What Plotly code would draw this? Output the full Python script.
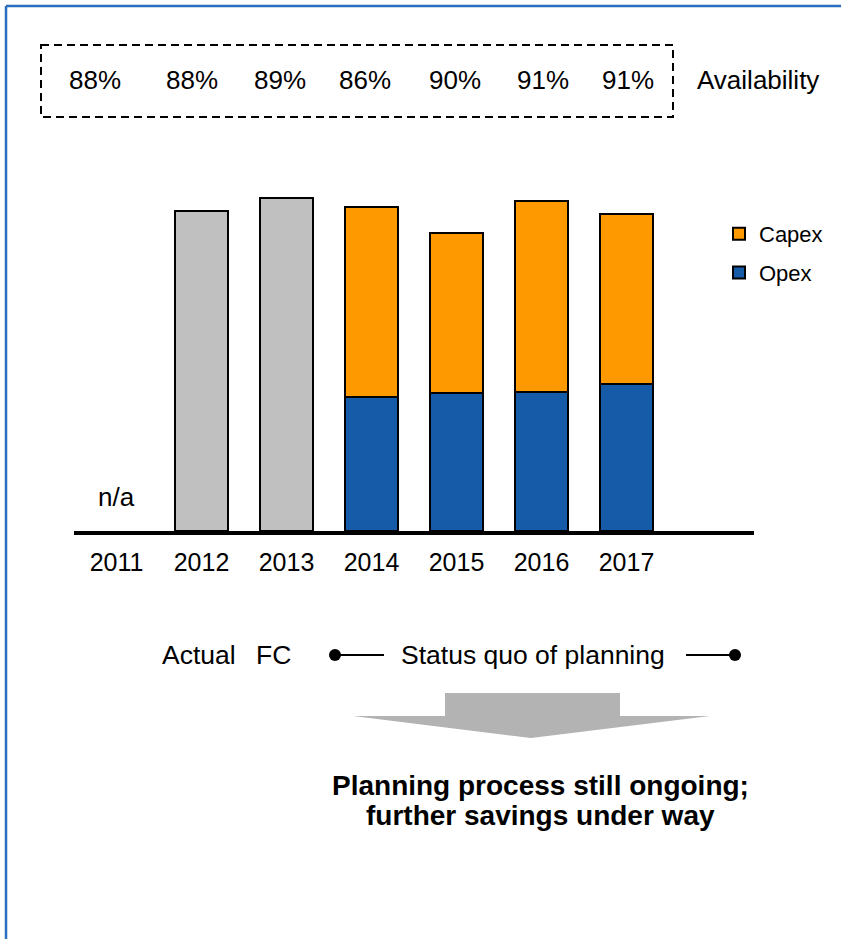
import plotly.graph_objects as go

# ---- data -------------------------------------------------------------
years = ["2011", "2012", "2013", "2014", "2015", "2016", "2017"]
availability = ["88%", "88%", "89%", "86%", "90%", "91%", "91%"]

actual_fc_years = ["2012", "2013"]
actual_fc_total = [320, 333]

plan_years = ["2014", "2015", "2016", "2017"]
opex = [134, 138, 139, 147]
capex = [190, 160, 191, 170]

# ---- layout constants (pixels of an 842 x 939 page) -------------------
W, H = 842, 939
PLOT_L, PLOT_R = 74, 754
PLOT_T, PLOT_B = 131, 531
FONT = "Liberation Sans, Arial, sans-serif"

GREY = "#c0c0c0"
ORANGE = "#ff9900"
BLUE = "#155ba8"
FRAME = "#2a6ebf"


def px(x):
    return (x - PLOT_L) / (PLOT_R - PLOT_L)


def py(y):
    return (PLOT_B - y) / (PLOT_B - PLOT_T)


def label(x, y, text, size=26, anchor="center", **kw):
    return dict(x=px(x), y=py(y), xref="paper", yref="paper", text=text, showarrow=False,
                xanchor=anchor, yanchor="middle",
                font=dict(size=size, color="black", family=FONT), **kw)


fig = go.Figure()

bar_line = dict(color="black", width=2)
fig.add_trace(go.Bar(x=actual_fc_years, y=actual_fc_total, marker=dict(color=GREY, line=bar_line),
                     width=0.62, showlegend=False, hoverinfo="skip"))
fig.add_trace(go.Bar(x=plan_years, y=opex, name="Opex", legendgroup="opex", legendrank=2,
                     marker=dict(color=BLUE, line=bar_line), width=0.62))
fig.add_trace(go.Bar(x=plan_years, y=capex, name="Capex", legendgroup="capex", legendrank=1,
                     marker=dict(color=ORANGE, line=bar_line), width=0.62))

annotations = []
shapes = []

# availability row inside a dashed box
avail_x = [95, 191.5, 279.5, 364.5, 454.5, 542.5, 628]
for xc, txt in zip(avail_x, availability):
    annotations.append(label(xc, 80, txt))
annotations.append(label(695, 80, "Availability", anchor="left"))
shapes.append(dict(type="rect", xref="paper", yref="paper", x0=px(41), x1=px(673), y0=py(45), y1=py(117),
                   line=dict(color="black", width=2, dash="8px,5px")))

# n/a marker for 2011 (first category slot)
annotations.append(dict(x=0, y=py(497), xref="x", yref="paper", text="n/a", showarrow=False,
                        xanchor="center", yanchor="middle",
                        font=dict(size=26, color="black", family=FONT)))

# timeline captions
annotations.append(label(199, 655, "Actual", size=26.5))
annotations.append(label(273, 655, "FC", size=26.5))
annotations.append(label(533, 655, "Status quo of planning", size=26.5))
for x0, x1 in [(335, 384), (686, 735)]:
    shapes.append(dict(type="line", xref="paper", yref="paper", x0=px(x0), x1=px(x1), y0=py(655), y1=py(655),
                       line=dict(color="black", width=2)))
for xc in (335, 735):
    shapes.append(dict(type="circle", xref="paper", yref="paper", x0=px(xc - 6), x1=px(xc + 6),
                       y0=py(655 - 6), y1=py(655 + 6), fillcolor="black", line=dict(color="black", width=0)))

# grey down arrow
arrow_pts = [(445, 693), (620, 693), (620, 716), (710, 716), (531, 738), (353, 716), (445, 716)]
path = "M " + " L ".join(f"{px(x):.5f},{py(y):.5f}" for x, y in arrow_pts) + " Z"
shapes.append(dict(type="path", xref="paper", yref="paper", path=path, fillcolor="#b3b3b3",
                   line=dict(width=0)))

# conclusion
annotations.append(label(540, 785, "<b>Planning process still ongoing;</b>", size=28))
annotations.append(label(540, 815, "<b>further savings under way</b>", size=28))

# page frame (top and left edges)
shapes.append(dict(type="line", xref="paper", yref="paper", x0=px(6), x1=px(841), y0=py(6), y1=py(6),
                   line=dict(color=FRAME, width=2.5)))
shapes.append(dict(type="line", xref="paper", yref="paper", x0=px(6), x1=px(6), y0=py(6), y1=py(939),
                   line=dict(color=FRAME, width=2.5)))

fig.update_layout(
    width=W, height=H,
    margin=dict(l=PLOT_L, r=W - PLOT_R, t=PLOT_T, b=H - PLOT_B, pad=0),
    paper_bgcolor="white", plot_bgcolor="white",
    barmode="stack", bargap=0.38,
    font=dict(family=FONT, color="black"),
    xaxis=dict(type="category", categoryorder="array", categoryarray=years, range=[-0.5, 7.5],
               showline=True, linewidth=4, linecolor="black", ticks="", showgrid=False,
               ticklabelstandoff=6,
               tickfont=dict(size=25, color="black", family=FONT), zeroline=False, fixedrange=True),
    yaxis=dict(range=[0, 400], visible=False, showgrid=False, zeroline=False, fixedrange=True),
    legend=dict(x=px(719), y=py(213), xanchor="left", yanchor="top", traceorder="grouped",
                tracegroupgap=7, font=dict(size=22, color="black", family=FONT),
                bgcolor="rgba(0,0,0,0)", itemwidth=30),
    annotations=annotations, shapes=shapes,
    showlegend=True,
)

fig.write_html("out.html")
